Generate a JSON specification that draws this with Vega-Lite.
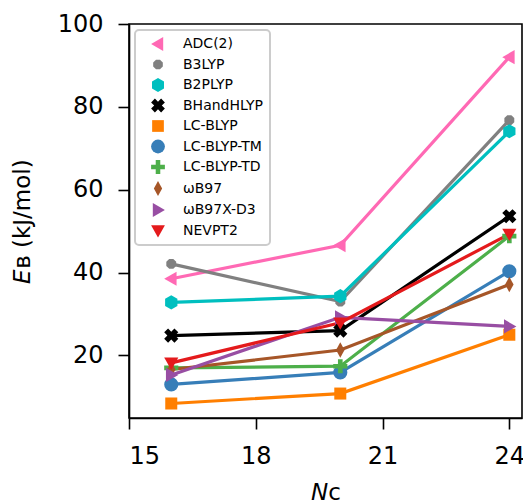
{
  "$schema": "https://vega.github.io/schema/vega-lite/v6.json",
  "width": 393,
  "height": 394,
  "autosize": {"type": "none"},
  "padding": {"left": 129, "top": 24, "right": 1, "bottom": 86},
  "config": {
    "font": "DejaVu Sans",
    "view": {"stroke": "black", "strokeWidth": 1.6},
    "axis": {
      "grid": false,
      "domainColor": "black",
      "domainWidth": 1.6,
      "tickColor": "black",
      "tickWidth": 1.6,
      "tickSize": 11,
      "labelColor": "black",
      "labelFontSize": 24,
      "titleColor": "black",
      "titleFontSize": 23,
      "titleFontWeight": "normal"
    },
    "legend": {
      "orient": "top-left",
      "offset": 6,
      "padding": 7,
      "strokeColor": "#cccccc",
      "strokeWidth": 2,
      "cornerRadius": 4,
      "fillColor": "white",
      "labelFontSize": 14,
      "labelColor": "black",
      "rowPadding": 6.5,
      "symbolSize": 190,
      "symbolStrokeWidth": 0,
      "symbolOffset": 9,
      "labelOffset": 18,
      "symbolOpacity": 1
    }
  },
  "datasets": {
    "pts": [
      {"method": "ADC(2)", "N": 16, "E": 38.5},
      {"method": "ADC(2)", "N": 20, "E": 46.6},
      {"method": "ADC(2)", "N": 24, "E": 92.0},
      {"method": "B3LYP", "N": 16, "E": 42.1},
      {"method": "B3LYP", "N": 20, "E": 33.0},
      {"method": "B3LYP", "N": 24, "E": 76.8},
      {"method": "B2PLYP", "N": 16, "E": 32.8},
      {"method": "B2PLYP", "N": 20, "E": 34.3},
      {"method": "B2PLYP", "N": 24, "E": 74.1},
      {"method": "BHandHLYP", "N": 16, "E": 24.8},
      {"method": "BHandHLYP", "N": 20, "E": 26.0},
      {"method": "BHandHLYP", "N": 24, "E": 53.6},
      {"method": "LC-BLYP", "N": 16, "E": 8.4},
      {"method": "LC-BLYP", "N": 20, "E": 10.8},
      {"method": "LC-BLYP", "N": 24, "E": 25.0},
      {"method": "LC-BLYP-TM", "N": 16, "E": 13.0},
      {"method": "LC-BLYP-TM", "N": 20, "E": 15.9},
      {"method": "LC-BLYP-TM", "N": 24, "E": 40.3},
      {"method": "LC-BLYP-TD", "N": 16, "E": 17.0},
      {"method": "LC-BLYP-TD", "N": 20, "E": 17.4},
      {"method": "LC-BLYP-TD", "N": 24, "E": 48.8},
      {"method": "ωB97", "N": 16, "E": 16.6},
      {"method": "ωB97", "N": 20, "E": 21.3},
      {"method": "ωB97", "N": 24, "E": 37.1},
      {"method": "ωB97X-D3", "N": 16, "E": 15.3},
      {"method": "ωB97X-D3", "N": 20, "E": 29.2},
      {"method": "ωB97X-D3", "N": 24, "E": 27.0},
      {"method": "NEVPT2", "N": 16, "E": 18.2},
      {"method": "NEVPT2", "N": 20, "E": 27.9},
      {"method": "NEVPT2", "N": 24, "E": 49.3}
    ]
  },
  "data": {"name": "pts"},
  "encoding": {
    "x": {
      "field": "N",
      "type": "quantitative",
      "scale": {"domain": [15, 24.3], "nice": false, "zero": false},
      "axis": {"values": [15, 18, 21, 24], "title": "𝘕ᴄ", "labelPadding": 15, "titlePadding": 13}
    },
    "y": {
      "field": "E",
      "type": "quantitative",
      "scale": {"domain": [4.9, 100], "nice": false, "zero": false},
      "axis": {"values": [20, 40, 60, 80, 100], "title": "𝘌ʙ (kJ/mol)", "labelPadding": 15, "titlePadding": 23}
    },
    "color": {
      "field": "method",
      "type": "nominal",
      "title": null,
      "scale": {
        "domain": ["ADC(2)", "B3LYP", "B2PLYP", "BHandHLYP", "LC-BLYP", "LC-BLYP-TM", "LC-BLYP-TD", "ωB97", "ωB97X-D3", "NEVPT2"],
        "range": ["#ff69b4", "#808080", "#00bfbf", "#000000", "#ff7f00", "#377eb8", "#4daf4a", "#a65628", "#984ea3", "#e41a1c"]
      },
      "legend": {"symbolType": "circle"}
    }
  },
  "layer": [
    {
      "mark": {"type": "line", "strokeWidth": 3.2}
    },
    {
      "mark": {"type": "point", "filled": true, "size": 200, "opacity": 1},
      "encoding": {
        "shape": {
          "field": "method",
          "type": "nominal",
          "title": null,
          "scale": {
            "domain": ["ADC(2)", "B3LYP", "B2PLYP", "BHandHLYP", "LC-BLYP", "LC-BLYP-TM", "LC-BLYP-TD", "ωB97", "ωB97X-D3", "NEVPT2"],
            "range": [
              "M-1,0L0.75,-1L0.75,1Z",
              "M-0.29,-0.7L0.29,-0.7L0.7,-0.29L0.7,0.29L0.29,0.7L-0.29,0.7L-0.7,0.29L-0.7,-0.29Z",
              "M0,-1L0.87,-0.5L0.87,0.5L0,1L-0.87,0.5L-0.87,-0.5Z",
              "M-1,-0.45L-0.45,-1L0,-0.55L0.45,-1L1,-0.45L0.55,0L1,0.45L0.45,1L0,0.55L-0.45,1L-1,0.45L-0.55,0Z",
              "M-0.85,-0.85L0.85,-0.85L0.85,0.85L-0.85,0.85Z",
              "circle",
              "M-0.33,-1L0.33,-1L0.33,-0.33L1,-0.33L1,0.33L0.33,0.33L0.33,1L-0.33,1L-0.33,0.33L-1,0.33L-1,-0.33L-0.33,-0.33Z",
              "M0,-1.1L0.6,0L0,1.1L-0.6,0Z",
              "M1,0L-0.75,-1L-0.75,1Z",
              "M0,1L-1,-0.75L1,-0.75Z"
            ]
          }
        }
      }
    }
  ]
}
